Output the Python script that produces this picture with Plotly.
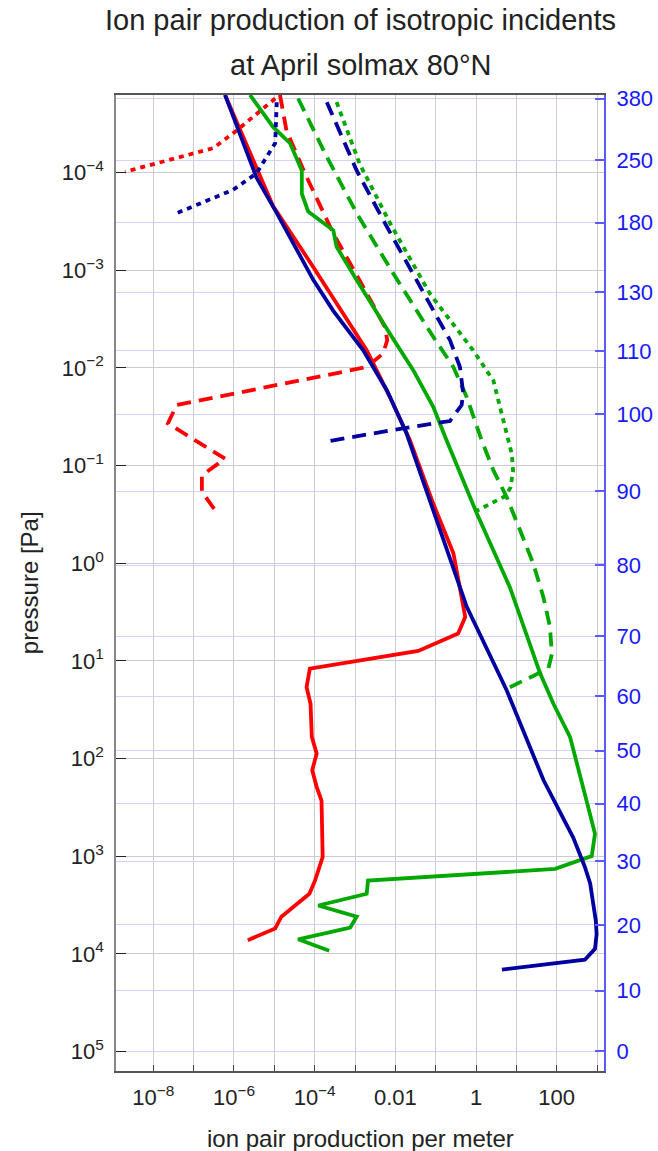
import plotly.graph_objects as go

# Ion pair production profiles: production per metre (q) versus pressure in Pa (p)
red_solid_q = [6.0e-7, 1.7e-6, 9.3e-6, 9.3e-5, 1.95e-3, 7.4e-3, 2.3e-2, 8.7e-2, 0.275, 0.44,
               0.54, 0.36, 0.037, 7.6e-5, 6.3e-5, 7.9e-5, 8.5e-5, 1.12e-4, 8.7e-5, 1.12e-4,
               1.48e-4, 1.58e-4, 1.02e-4, 7.4e-5, 1.5e-5, 1.05e-5, 2.2e-6]
red_solid_p = [1.6e-5, 4.4e-5, 2.2e-4, 9.3e-4, 6.6e-3, 2.0e-2, 5.5e-2, 0.245, 0.79, 2.24,
               3.55, 5.25, 7.9, 12.0, 18.6, 27.5, 60, 89, 132, 195,
               270, 1020, 1780, 2430, 4170, 5500, 7240]

red_dash_q = [1.38e-5, 2.0e-5, 5.75e-5, 2.9e-4, 1.6e-3, 5.5e-3, 6.3e-3, 5.0e-3, 1.95e-3,
              3.8e-8, 2.3e-8, 6.0e-7, 1.6e-7, 1.6e-7, 3.7e-7]
red_dash_p = [1.6e-5, 3.7e-5, 1.02e-4, 4.2e-4, 1.48e-3, 3.8e-3, 5.2e-3, 7.1e-3, 9.8e-3,
              2.4e-2, 3.7e-2, 8.5e-2, 0.126, 0.186, 0.30]

red_dot_q = [1.05e-5, 3.3e-6, 1.17e-6, 3.1e-7, 2.0e-9]
red_dot_p = [1.74e-5, 2.6e-5, 3.7e-5, 5.6e-5, 9.8e-5]

green_solid_q = [2.5e-6, 9.3e-6, 2.45e-5, 4.8e-5, 4.8e-5, 6.9e-5, 2.9e-4, 3.5e-4, 1.1e-3, 3.5e-3,
                 7.4e-3, 2.8e-2, 8.7e-2, 0.186, 1.05, 6.9, 39, 83, 214, 550,
                 890, 740, 91, 2.1e-3, 1.95e-3, 1.23e-4, 1.1e-3, 7.6e-4, 3.9e-5, 2.3e-4]
green_solid_p = [1.6e-5, 3.4e-5, 5.0e-5, 9.5e-5, 1.64e-4, 2.5e-4, 3.9e-4, 5.75e-4, 1.26e-3, 2.75e-3,
                 4.5e-3, 1.06e-2, 2.5e-2, 5.5e-2, 0.31, 1.76, 13.5, 27.5, 60, 270,
                 590, 1000, 1350, 1780, 2430, 3200, 4170, 5400, 7100, 9300]

green_dash_q = [3.9e-5, 2.0e-4, 1.1e-3, 8.9e-3, 8.7e-2, 0.275, 0.59, 1.38, 2.7, 5.75,
                12.3, 26.3, 47, 68, 76, 62, 6.9]
green_dash_p = [1.74e-5, 6.9e-5, 2.6e-4, 1.08e-3, 4.8e-3, 9.8e-3, 2.0e-2, 5.5e-2, 0.112, 0.21,
                0.457, 1.01, 2.24, 4.47, 8.5, 12.0, 18.6]

green_dot_q = [3.5e-4, 1.3e-3, 7.4e-3, 7.2e-2, 0.85, 2.7, 5.75, 7.7, 8.3, 7.2, 5.5, 1.05]
green_dot_p = [1.9e-5, 8.1e-5, 3.3e-4, 1.74e-3, 6.6e-3, 1.35e-2, 4.7e-2, 7.6e-2, 0.112, 0.166, 0.204, 0.29]

blue_solid_q = [6.0e-7, 3.6e-6, 1.15e-5, 9.3e-5, 2.9e-4, 1.6e-3, 6.2e-3, 1.9e-2, 0.59, 5.75,
                47, 257, 500, 676, 933, 977, 890, 500, 4.4]
blue_solid_p = [1.6e-5, 1.12e-4, 2.6e-4, 1.26e-3, 2.6e-3, 6.6e-3, 1.7e-2, 4.7e-2, 2.8, 20,
                166, 646, 1290, 1900, 4570, 6300, 8900, 11500, 14500]

blue_dash_q = [2.0e-4, 1.1e-3, 6.2e-3, 4.1e-2, 0.226, 0.40, 0.48, 0.44, 0.226, 1.3e-2, 1.6e-4]
blue_dash_p = [1.9e-5, 9.5e-5, 3.6e-4, 1.48e-3, 5.2e-3, 9.8e-3, 1.8e-2, 2.4e-2, 3.5e-2, 4.2e-2, 5.75e-2]

blue_dot_q = [1.15e-5, 1.05e-5, 3.6e-6, 9.5e-7, 3.8e-8]
blue_dot_p = [1.9e-5, 5.0e-5, 1.02e-4, 1.5e-4, 2.6e-4]

# Pressure axis labels (left) and altitude labels in km (right)
pressure_ticks = [1e-4, 1e-3, 1e-2, 1e-1, 1e0, 1e1, 1e2, 1e3, 1e4, 1e5]
pressure_text = ["10<sup>−4</sup>", "10<sup>−3</sup>", "10<sup>−2</sup>", "10<sup>−1</sup>",
                 "10<sup>0</sup>", "10<sup>1</sup>", "10<sup>2</sup>", "10<sup>3</sup>",
                 "10<sup>4</sup>", "10<sup>5</sup>"]
altitude_km = [380, 250, 180, 130, 110, 100, 90, 80, 70, 60, 50, 40, 30, 20, 10, 0]
altitude_pressure = [1.75e-5, 7.5e-5, 3.25e-4, 1.67e-3, 6.7e-3, 2.99e-2, 0.184, 1.054, 5.58,
                     23.1, 82.8, 290, 1132, 5050, 23800, 1.0e5]
production_ticks = [1e-8, 1e-6, 1e-4, 1e-2, 1e0, 1e2]
production_text = ["10<sup>−8</sup>", "10<sup>−6</sup>", "10<sup>−4</sup>", "0.01", "1", "100"]
production_minor = [1e-7, 1e-5, 1e-3, 1e-1, 1e1, 1e3]

RED = "#ff0000"
GREEN = "#00a800"
NAVY = "#0000a0"
FONT = "Liberation Sans, Arial, sans-serif"
DASH = "14px,8px"
DOT = "5px,5px"

# the navy set is drawn against the altitude axis (same pressure range)
series = [
    (red_solid_q, red_solid_p, RED, "solid", "y"),
    (red_dash_q, red_dash_p, RED, DASH, "y"),
    (red_dot_q, red_dot_p, RED, DOT, "y"),
    (green_solid_q, green_solid_p, GREEN, "solid", "y"),
    (green_dash_q, green_dash_p, GREEN, DASH, "y"),
    (green_dot_q, green_dot_p, GREEN, DOT, "y"),
    (blue_solid_q, blue_solid_p, NAVY, "solid", "y2"),
    (blue_dash_q, blue_dash_p, NAVY, DASH, "y2"),
    (blue_dot_q, blue_dot_p, NAVY, DOT, "y2"),
]

fig = go.Figure()
for q, p, color, dash, yax in series:
    fig.add_trace(go.Scatter(x=q, y=p, mode="lines", showlegend=False, yaxis=yax,
                             line=dict(color=color, width=3.8, dash=dash)))

grid_gray = "#cbcbd0"
grid_blue = "#d2d2ff"
p_range = [5.2, -4.795]

fig.update_layout(
    width=658, height=1151,
    margin=dict(l=116, r=54, t=95, b=80),
    paper_bgcolor="white", plot_bgcolor="white",
    font=dict(family=FONT, size=22, color="#222"),
    xaxis=dict(type="log", range=[-8.925, 3.173], tickvals=production_ticks,
               ticktext=production_text, ticks="inside", ticklen=6, tickwidth=1.2,
               tickcolor="#444", showgrid=True, gridcolor=grid_gray, gridwidth=1.2,
               minor=dict(tickvals=production_minor, ticks="inside", ticklen=6,
                          tickwidth=1.2, tickcolor="#444", showgrid=True,
                          gridcolor=grid_gray, gridwidth=1.2),
               showline=True, linecolor="#555", linewidth=1.5, mirror=True, zeroline=False,
               automargin=False, tickfont=dict(size=22, color="#222"), ticklabelstandoff=6),
    yaxis=dict(type="log", range=p_range, tickvals=pressure_ticks, ticktext=pressure_text,
               ticks="inside", ticklen=10, tickwidth=1.2, tickcolor="#222",
               showgrid=True, gridcolor=grid_gray, gridwidth=1.2,
               showline=True, linecolor="#888", linewidth=1.5, zeroline=False,
               automargin=False, tickfont=dict(size=22, color="#222"), ticklabelstandoff=6),
    yaxis2=dict(type="log", range=p_range, overlaying="y", side="right", anchor="x",
                tickvals=altitude_pressure, ticktext=[str(a) for a in altitude_km],
                ticks="inside", ticklen=9, tickwidth=1.5, tickcolor="#5a5aff",
                showgrid=True, gridcolor=grid_blue, gridwidth=1.4,
                showline=True, linecolor="#5a5aff", linewidth=2, zeroline=False,
                automargin=False, tickfont=dict(size=22, color="#1818ff"), ticklabelstandoff=6),
    annotations=[
        dict(text="Ion pair production of isotropic incidents", xref="paper", yref="paper",
             x=0.5, y=1.0765, xanchor="center", yanchor="middle", showarrow=False,
             font=dict(size=29, color="#222")),
        dict(text="at April solmax 80°N", xref="paper", yref="paper",
             x=0.5, y=1.031, xanchor="center", yanchor="middle", showarrow=False,
             font=dict(size=29, color="#222")),
        dict(text="ion pair production per meter", xref="paper", yref="paper",
             x=0.5, y=-0.0695, xanchor="center", yanchor="middle", showarrow=False,
             font=dict(size=24, color="#222")),
        dict(text="pressure [Pa]", xref="paper", yref="paper", textangle=-90,
             x=-0.178, y=0.5, xanchor="center", yanchor="middle", showarrow=False,
             font=dict(size=24, color="#222")),
    ],
)

fig.write_html("out.html")
